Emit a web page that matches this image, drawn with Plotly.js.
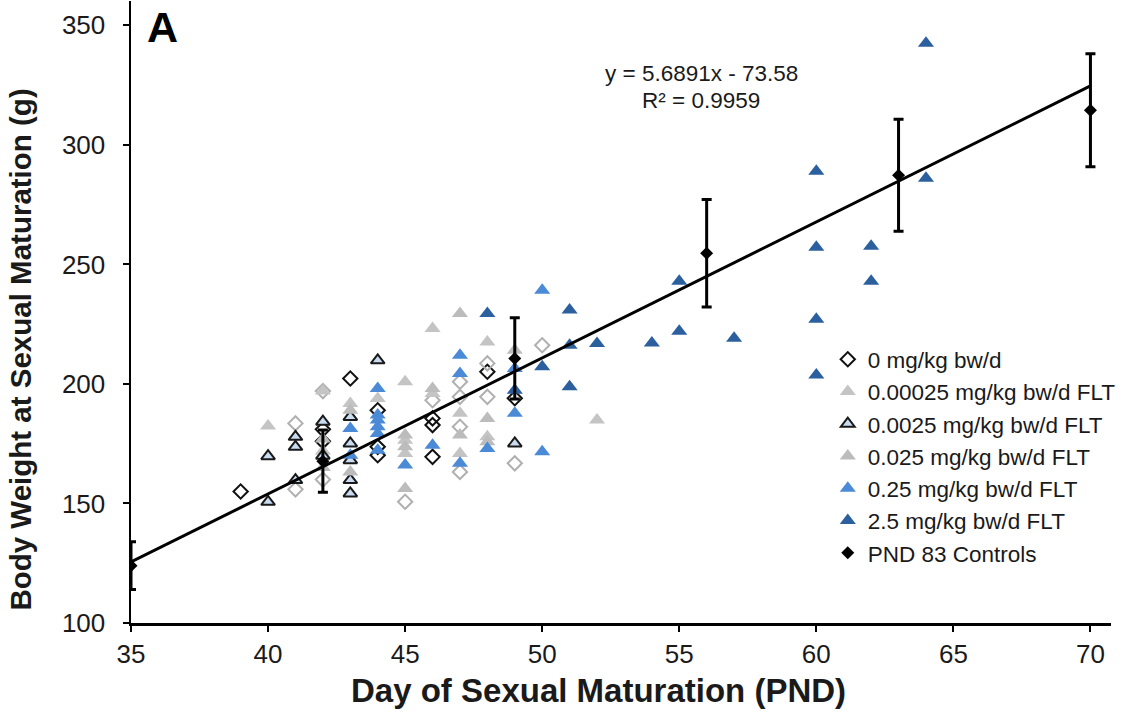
<!DOCTYPE html>
<html>
<head>
<meta charset="utf-8">
<script src="https://cdn.plot.ly/plotly-3.0.1.min.js"></script>
<style>html,body{margin:0;padding:0;background:#fff;}#chart{width:1127px;height:713px;}</style>
</head>
<body>
<div id="chart"></div>
<script>
// ---- data ----
const legendNames = ["0 mg/kg bw/d", "0.00025 mg/kg bw/d FLT", "0.0025 mg/kg bw/d FLT",
  "0.025 mg/kg bw/d FLT", "0.25 mg/kg bw/d FLT", "2.5 mg/kg bw/d FLT", "PND 83 Controls"];

// 0 mg/kg bw/d (open diamonds; some drawn dark, some light)
const d0X = [39, 42, 42, 43, 44, 44, 44, 46, 46, 46, 48, 49, 41, 41, 42, 42, 45, 46, 47, 47, 47, 47, 48, 48, 49, 50];
const d0Y = [155, 181, 176, 202.3, 189, 173.7, 170.2, 185.6, 182.8, 169.5, 205.1, 194, 183.5, 155.9, 197, 160, 150.7, 193.2, 200.9, 194.6, 182.1, 163.2, 208.6, 194.6, 166.8, 216.2];
const d0Dark = [1,1,1,1,1,1,1,1,1,1,1,1,0,0,0,0,0,0,0,0,0,0,0,0,0,0];

// 0.00025 mg/kg bw/d FLT
const d1X = [40, 42, 42, 43, 44, 45, 45, 45, 46, 46, 47, 47, 48, 48, 52];
const d1Y = [182.4, 197, 172, 191.8, 193.9, 200.9, 176.5, 170.9, 223.2, 196, 187.7, 170.9, 217.6, 177.9, 184.9];

// 0.0025 mg/kg bw/d FLT
const d2X = [40, 40, 41, 41, 41, 42, 42, 43, 43, 43, 43, 43, 44, 49];
const d2Y = [169.8, 150.7, 177.9, 173.7, 159.8, 184.2, 170, 186.2, 175.1, 168.1, 159.8, 154.2, 209.9, 175.1];

// 0.025 mg/kg bw/d FLT
const d3X = [42, 42, 43, 43, 45, 45, 45, 46, 47, 47, 48, 48, 49];
const d3Y = [177, 165, 189, 163.2, 178.6, 173.7, 156.3, 198.1, 229.5, 178.6, 185.6, 175.8, 214.1];

// 0.25 mg/kg bw/d FLT
const d4X = [43, 43, 44, 44, 44, 44, 44, 44, 45, 46, 47, 47, 47, 48, 49, 49, 50, 50];
const d4Y = [181.4, 170.2, 198.1, 187, 184.9, 182.1, 179.3, 172.3, 166.1, 174.4, 212, 204.4, 166.8, 173, 206.5, 187.7, 239.2, 171.6];

// 2.5 mg/kg bw/d FLT
const d5X = [48, 49, 50, 51, 51, 51, 52, 54, 55, 55, 57, 60, 60, 60, 60, 62, 62, 64, 64];
const d5Y = [229.5, 197.4, 207.2, 230.9, 216.2, 198.8, 216.9, 217.1, 243, 222, 219.1, 289, 257.2, 227.1, 203.7, 257.6, 243, 342.5, 286];

// PND 83 controls (mean +/- error)
const ctrlX = [35, 42, 49, 56, 63, 70];
const ctrlY = [124, 167.7, 210.7, 254.7, 287.3, 314.5];
const ctrlErr = [10, 13, 17, 22.5, 23.4, 23.6];

// Linear trend shown in the figure
const trendSlope = 5.6891, trendIntercept = -73.58;
const trendX = [35, 70];
const eqText = "y = 5.6891x - 73.58";
const r2Text = "R² = 0.9959";

const xTicks = [35, 40, 45, 50, 55, 60, 65, 70];
const yTicks = [100, 150, 200, 250, 300, 350];

// ---- styling ----
const FONT = "Arial, 'Liberation Sans', sans-serif";

const traces = [
  {x: d0X, y: d0Y, name: legendNames[0], type: "scatter", mode: "markers", legendgroup: "g0",
   marker: {symbol: "diamond-open", size: 11, color: d0Dark.map(v => v ? "#111" : "#b0b0b0"),
            line: {width: 2, color: d0Dark.map(v => v ? "#111" : "#b0b0b0")}}},
  {x: d1X, y: d1Y, name: legendNames[1], type: "scatter", mode: "markers", legendgroup: "g1",
   marker: {symbol: "triangle-up", size: 14, color: "#c4c4c4", line: {width: 0}}},
  {x: d2X, y: d2Y, name: legendNames[2], type: "scatter", mode: "markers", legendgroup: "g2",
   marker: {symbol: "triangle-up", size: 12, color: "#c9dcf2", line: {width: 2, color: "#1a1a1a"}}},
  {x: d3X, y: d3Y, name: legendNames[3], type: "scatter", mode: "markers", legendgroup: "g3",
   marker: {symbol: "triangle-up", size: 14, color: "#bcbcbc", line: {width: 0}}},
  {x: d4X, y: d4Y, name: legendNames[4], type: "scatter", mode: "markers", legendgroup: "g4",
   marker: {symbol: "triangle-up", size: 14, color: "#4a8ad6", line: {width: 0}}},
  {x: d5X, y: d5Y, name: legendNames[5], type: "scatter", mode: "markers", legendgroup: "g5",
   marker: {symbol: "triangle-up", size: 14, color: "#2c5f9e", line: {width: 0}}},
  {x: trendX, y: trendX.map(v => trendSlope * v + trendIntercept), type: "scatter", mode: "lines",
   showlegend: false, hoverinfo: "skip", line: {color: "#000", width: 3}},
  {x: ctrlX, y: ctrlY, name: legendNames[6], type: "scatter", mode: "markers", legendgroup: "g6",
   marker: {symbol: "diamond", size: 10, color: "#000"},
   error_y: {type: "data", array: ctrlErr, visible: true, color: "#000", thickness: 3, width: 5}}
];

const layout = {
  width: 1127, height: 713,
  margin: {l: 131, r: 16, t: 1, b: 90},
  paper_bgcolor: "#fff", plot_bgcolor: "#fff",
  font: {family: FONT, color: "#1a1a1a"},
  showlegend: true,
  legend: {x: 0.711, xanchor: "left", y: 0.458, yanchor: "top",
           font: {family: FONT, size: 22.5, color: "#1a1a1a"},
           bgcolor: "rgba(0,0,0,0)", tracegroupgap: 0, itemwidth: 30},
  xaxis: {range: [35, 70.75], tickvals: xTicks, ticktext: xTicks.map(String),
          showgrid: false, zeroline: false, showline: true, linecolor: "#000", linewidth: 2.5,
          ticks: "outside", ticklen: 6, tickwidth: 2, tickcolor: "#000",
          tickfont: {family: FONT, size: 26, color: "#1a1a1a"}, ticklabelstandoff: 0},
  yaxis: {range: [100, 360.2], tickvals: yTicks, ticktext: yTicks.map(String),
          showgrid: false, zeroline: false, showline: true, linecolor: "#000", linewidth: 2.5,
          ticks: "outside", ticklen: 6, tickwidth: 2, tickcolor: "#000",
          tickfont: {family: FONT, size: 26, color: "#1a1a1a"}, ticklabelstandoff: 12},
  annotations: [
    {text: "<b>A</b>", xref: "paper", yref: "paper", x: 0.0145, y: 1.0, xanchor: "left", yanchor: "top",
     showarrow: false, font: {family: FONT, size: 43, color: "#000"}},
    {text: eqText, xref: "x", yref: "y", x: 55.8, y: 329.8, xanchor: "center", yanchor: "middle",
     showarrow: false, font: {family: FONT, size: 22.5, color: "#1a1a1a"}},
    {text: r2Text, xref: "x", yref: "y", x: 55.8, y: 318.5, xanchor: "center", yanchor: "middle",
     showarrow: false, font: {family: FONT, size: 22.5, color: "#1a1a1a"}},
    {text: "<b>Day of Sexual Maturation (PND)</b>", xref: "paper", yref: "paper",
     x: 0.477, y: -0.108, xanchor: "center", yanchor: "middle", showarrow: false,
     font: {family: FONT, size: 33, color: "#1a1a1a"}},
    {text: "<b>Body Weight at Sexual Maturation (g)</b>", xref: "paper", yref: "paper",
     x: -0.113, y: 0.44, xanchor: "center", yanchor: "middle", textangle: -90, showarrow: false,
     font: {family: FONT, size: 29.5, color: "#1a1a1a"}}
  ]
};

Plotly.newPlot("chart", traces, layout, {displayModeBar: false, staticPlot: true});
</script>
</body>
</html>
